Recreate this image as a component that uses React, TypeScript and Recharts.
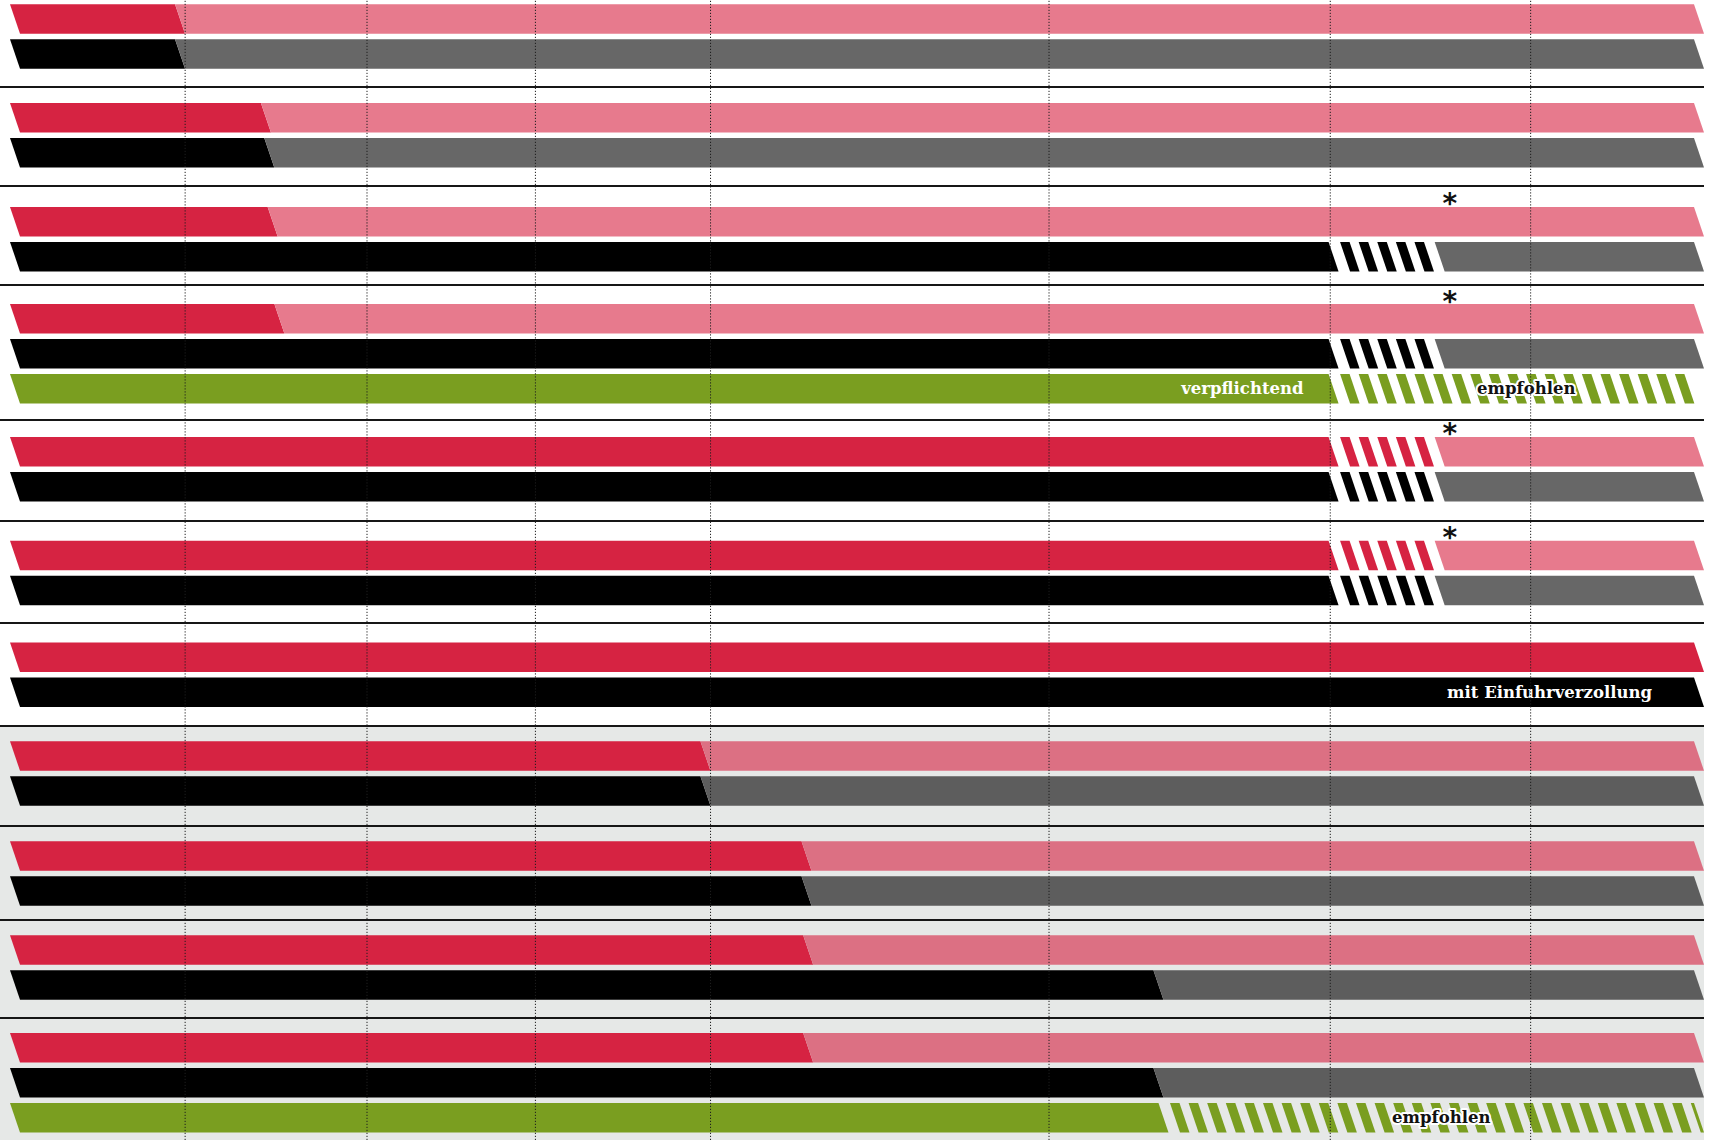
import React from "react";
import { Bar, BarChart, ReferenceDot, ReferenceLine, XAxis, YAxis } from "recharts";

// timeline position: 0 = start of every bar, 100 = its end
const GROUPS = ["1", "2", "3", "4", "5", "6", "7", "8", "9", "10", "11"];
const GRID_LINES = [10.4, 21.2, 31.2, 41.6, 61.7, 78.4, 90.3];

const RED_SOLID = [9.8, 14.9, 15.3, 15.7, 78.3, 78.3, 100, 41.0, 47.0, 47.1, 47.1];
const RED_HATCH = [0, 0, 0, 0, 6.3, 6.3, 0, 0, 0, 0, 0];
const BLACK_SOLID = [9.8, 15.1, 78.3, 78.3, 78.3, 78.3, 100, 41.0, 47.0, 67.9, 67.9];
const BLACK_HATCH = [0, 0, 6.3, 6.3, 6.3, 6.3, 0, 0, 0, 0, 0];
const GREEN_SOLID = [null, null, null, 78.3, null, null, null, null, null, null, 68.2];
const GREEN_HATCH = [null, null, null, 21.7, null, null, null, null, null, null, 31.8];
const NOTE_AT = [null, null, 85.5, 85.5, 85.5, 85.5, null, null, null, null, null];

const SOLID_LABELS: Record<string, string> = {
  "4-green": "verpflichtend",
  "7-black": "mit Einfuhrverzollung",
};
const HATCH_LABELS: Record<string, string> = {
  "4-green": "empfohlen",
  "11-green": "empfohlen",
};

const SHADED_FROM = 7; // groups 8..11 sit on a grey background

type Series = "red" | "black" | "green";
type Row = {
  id: string;
  series: Series;
  solid: number;
  hatch: number;
  light: number;
  solidLabel?: string;
  hatchLabel?: string;
};

const makeRow = (g: number, series: Series, solid: number, hatch: number): Row => {
  const id = `${GROUPS[g]}-${series}`;
  return {
    id,
    series,
    solid,
    hatch,
    light: Math.max(0, 100 - solid - hatch),
    solidLabel: SOLID_LABELS[id],
    hatchLabel: HATCH_LABELS[id],
  };
};

const buildRows = (g: number): Row[] => {
  const rows = [
    makeRow(g, "red", RED_SOLID[g], RED_HATCH[g]),
    makeRow(g, "black", BLACK_SOLID[g], BLACK_HATCH[g]),
  ];
  const gs = GREEN_SOLID[g];
  if (gs != null) rows.push(makeRow(g, "green", gs, GREEN_HATCH[g] ?? 0));
  return rows;
};

// ---- layout / styles ----
const WIDTH = 1704;
const ROW_PITCH = 35;
const BAR_H = 29.5;
const SLANT = 10 / 29.5;
const STRIPE_W = 9.5;
const STRIPE_PITCH = 18.6;
const HATCH_GAP_START = 11.5;
const HATCH_GAP_END = 9;
const BG_SHADED = "#E6E8E7";
const LABEL_FONT = "'DejaVu Serif', serif";

const LAYOUT = [
  { height: 86, barTop: 4 },
  { height: 97, barTop: 14.7 },
  { height: 96.5, barTop: 19.7 },
  { height: 133.5, barTop: 17.8 },
  { height: 98.5, barTop: 15.7 },
  { height: 100, barTop: 18.5 },
  { height: 101.5, barTop: 18.2 },
  { height: 98, barTop: 14 },
  { height: 92, barTop: 14 },
  { height: 96, barTop: 14 },
  { height: 121, barTop: 13.7 },
];

const COLORS: Record<Series, { solid: string; light: string; lightShaded: string }> = {
  red: { solid: "#D62342", light: "#E77A8D", lightShaded: "#DC7083" },
  black: { solid: "#000000", light: "#676767", lightShaded: "#5D5D5D" },
  green: { solid: "#7A9E20", light: "#A6C264", lightShaded: "#A6C264" },
};

const SOLID_LABEL_INSET: Record<Series, number> = { red: 25, black: 42, green: 25 };

const para = (x: number, y: number, w: number, h: number) => {
  const s = h * SLANT;
  return `M${x},${y}L${x + w},${y}L${x + w + s},${y + h}L${x + s},${y + h}Z`;
};

const SolidShape = (props: any) => {
  const { x, y, width, height, payload } = props;
  if (!(width > 0)) return null;
  const row = payload as Row;
  return (
    <g>
      <path d={para(x, y, width, height)} fill={COLORS[row.series].solid} />
      {row.solidLabel && (
        <text
          x={x + width - SOLID_LABEL_INSET[row.series]}
          y={y + height / 2 + 5.5}
          textAnchor="end"
          fill="#ffffff"
          fontFamily={LABEL_FONT}
          fontWeight={700}
          fontSize={16.5}
        >
          {row.solidLabel}
        </text>
      )}
    </g>
  );
};

const HatchShape = (props: any) => {
  const { x, y, width, height, payload } = props;
  if (!(width > 0)) return null;
  const row = payload as Row;
  const toEnd = row.light <= 0;
  const limit = x + width - (toEnd ? 0 : HATCH_GAP_END);
  const stripes: React.ReactNode[] = [];
  for (let sx = x + HATCH_GAP_START, k = 0; sx < limit - 1; sx += STRIPE_PITCH, k++) {
    const w = Math.min(STRIPE_W, limit - sx);
    if (!toEnd && w < STRIPE_W) break;
    stripes.push(<path key={k} d={para(sx, y, w, height)} fill={COLORS[row.series].solid} />);
  }
  return (
    <g>
      {stripes}
      {row.hatchLabel && (
        <text
          x={x + width / 2 + 15}
          y={y + height / 2 + 5}
          textAnchor="middle"
          fill="#111111"
          stroke="#ffffff"
          strokeWidth={4}
          strokeLinejoin="round"
          paintOrder="stroke"
          fontFamily={LABEL_FONT}
          fontWeight={700}
          fontSize={16.5}
        >
          {row.hatchLabel}
        </text>
      )}
    </g>
  );
};

const makeLightShape = (shaded: boolean) => (props: any) => {
  const { x, y, width, height, payload } = props;
  if (!(width > 0)) return null;
  const c = COLORS[(payload as Row).series];
  return <path d={para(x, y, width, height)} fill={shaded ? c.lightShaded : c.light} />;
};

const Group = ({ index }: { index: number }) => {
  const rows = buildRows(index);
  const { height, barTop } = LAYOUT[index];
  const shaded = index >= SHADED_FROM;
  const padTop = barTop - (ROW_PITCH - BAR_H) / 2;
  const padBottom = height - padTop - rows.length * ROW_PITCH;
  const note = NOTE_AT[index];
  const last = index === GROUPS.length - 1;
  return (
    <div
      style={{
        width: WIDTH,
        height,
        background: shaded ? BG_SHADED : "#ffffff",
        borderBottom: last ? "none" : "2px solid #161616",
      }}
    >
      <BarChart
        width={WIDTH}
        height={height}
        data={rows}
        layout="vertical"
        margin={{ top: 0, right: 10, bottom: 0, left: 10 }}
        barSize={BAR_H}
        barCategoryGap={0}
        barGap={0}
      >
        <XAxis type="number" domain={[0, 100]} hide />
        <YAxis
          type="category"
          dataKey="id"
          hide
          padding={{ top: padTop, bottom: padBottom }}
        />
        <Bar dataKey="solid" stackId="a" shape={SolidShape} isAnimationActive={false} />
        <Bar dataKey="hatch" stackId="a" shape={HatchShape} isAnimationActive={false} />
        <Bar
          dataKey="light"
          stackId="a"
          shape={makeLightShape(shaded)}
          isAnimationActive={false}
        />
        {GRID_LINES.map((v) => (
          <ReferenceLine
            key={v}
            x={v}
            stroke="#1e1e1e"
            strokeWidth={1}
            strokeDasharray="1.2 1.8"
          />
        ))}
        {note != null && (
          <ReferenceDot
            x={note}
            y={rows[0].id}
            r={0}
            fill="none"
            stroke="none"
            label={{
              value: "*",
              position: "top",
              offset: 8,
              fill: "#111111",
              fontSize: 28,
              fontWeight: 700,
              fontFamily: "'DejaVu Sans', sans-serif",
            }}
          />
        )}
      </BarChart>
    </div>
  );
};

export default function App() {
  return (
    <div style={{ width: 1710, height: 1140, overflow: "hidden", background: "#ffffff" }}>
      <style>{"body{margin:0}.recharts-surface{overflow:visible}"}</style>
      {GROUPS.map((g, i) => (
        <Group key={g} index={i} />
      ))}
    </div>
  );
}
